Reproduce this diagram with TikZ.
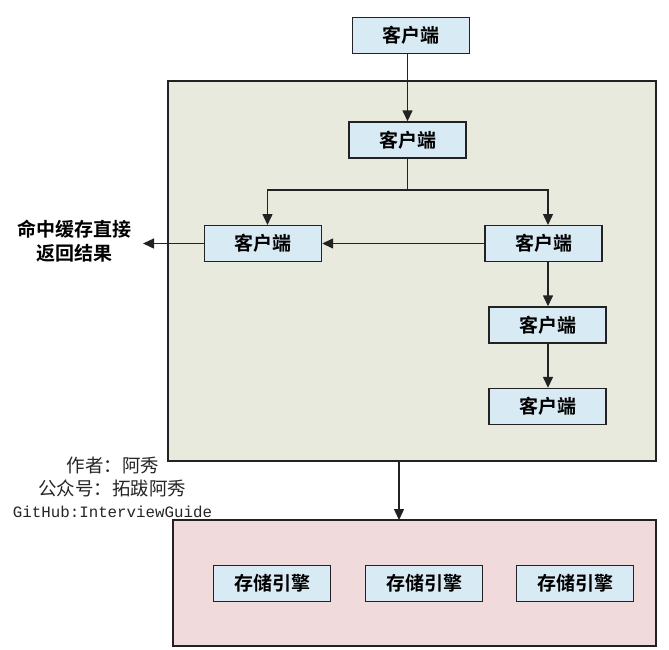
\documentclass[tikz,border=0pt]{standalone}
\usepackage{fontspec}
\newfontfamily\cjkb[BoldFont={Noto Sans CJK SC Bold}]{Noto Sans CJK SC}
\newfontfamily\cjk{Noto Sans CJK SC}
\newfontfamily\mono{Liberation Mono}
\usetikzlibrary{arrows.meta}
\definecolor{boxblue}{HTML}{D8EAF3}
\definecolor{greenbg}{HTML}{E8EADD}
\definecolor{pinkbg}{HTML}{F0DADB}
\definecolor{linec}{HTML}{222222}
\tikzset{
  client/.style={draw=linec, line width=1.4pt, fill=boxblue, minimum width=117pt, minimum height=36pt, inner sep=0pt, font=\cjkb\bfseries\fontsize{19}{22}\selectfont},
  region/.style={draw=linec, line width=1.3pt},
  conn/.style={draw=linec, line width=1.4pt, -{Triangle[width=10pt,length=11pt]}},
  plain/.style={draw=linec, line width=1.4pt},
  note/.style={font=\cjk\fontsize{18.5}{22}\selectfont, text=black!85, inner sep=0pt},
}
\begin{document}
\begin{tikzpicture}[x=1pt,y=-1pt]
\useasboundingbox[fill=white] (0,0) rectangle (669,649);
% regions
\draw[region, fill=greenbg] (168,81) rectangle (656,461);
\draw[region, fill=pinkbg] (173,520) rectangle (656,646);
\coordinate (gbot) at (399,461);
\coordinate (ptop) at (399,520);
% nodes
\node[client] (c0) at (411,35.5) {客户端};
\node[client] (c1) at (407.5,140) {客户端};
\node[client] (cl) at (263,243.5) {客户端};
\node[client] (cr) at (543.5,243.5) {客户端};
\node[client] (c4) at (547.5,325) {客户端};
\node[client] (c5) at (547.5,406.5) {客户端};
\node[client] (s1) at (272,583.5) {存储引擎};
\node[client] (s2) at (424,583.5) {存储引擎};
\node[client] (s3) at (575,583.5) {存储引擎};
\node[font=\cjkb\bfseries\fontsize{19}{24}\selectfont, align=center, inner sep=0pt] (hit) at (74.5,241.5) {命中缓存直接\\返回结果};
\coordinate (hitend) at (143,243.5);
\node[note, anchor=center] (w1) at (113,465) {作者：阿秀};
\node[note, anchor=center] (w2) at (112,488) {公众号：拓跋阿秀};
\node[font=\mono\fontsize{15.8}{18}\selectfont, text=black!85, inner sep=0pt] (w3) at (112.5,512) {GitHub:InterviewGuide};
% connectors
\draw[conn] (c0.south -| c1.north) -- (c1.north);
\coordinate (br) at (c1.south |- 0,190);
\draw[plain] (c1.south) -- (br);
\draw[conn] (br) -| (267.5,225);
\draw[conn] (br) -| (548,225);
\draw[conn] (cr.west) -- (cl.east);
\draw[conn] (cl.west) -- (hitend);
\draw[conn] (cr.south -| 548,0) -- (c4.north -| 548,0);
\draw[conn] (c4.south -| 548,0) -- (c5.north -| 548,0);
\draw[conn] (gbot) -- (ptop);
\end{tikzpicture}
\end{document}
